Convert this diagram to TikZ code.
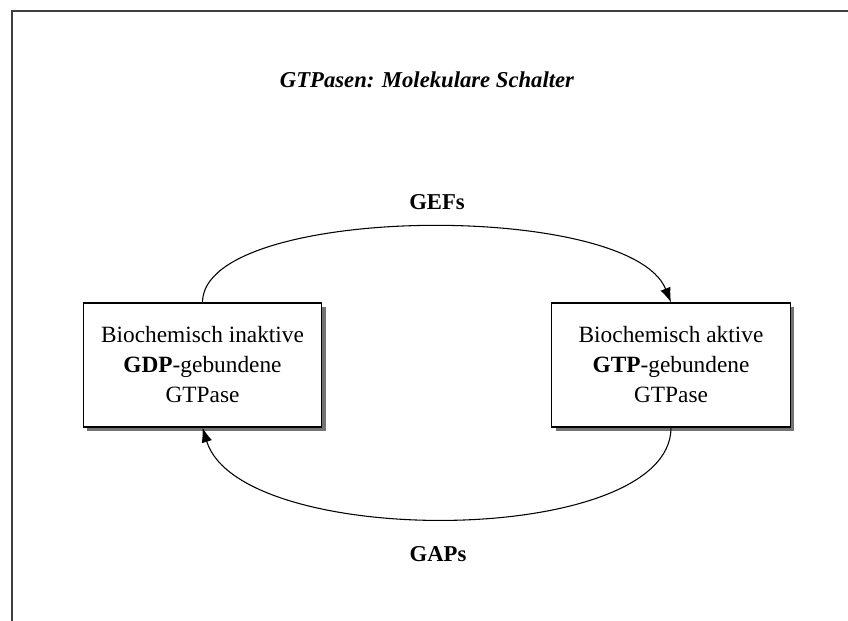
\documentclass[tikz,border=0pt]{standalone}
\usepackage{fontspec}
\setmainfont{Liberation Serif}
\usetikzlibrary{arrows.meta,shadows}
\tikzstyle{zustand}=[rectangle, draw=black, fill=white, line width=0.9pt, minimum width=179pt, minimum height=93pt, align=center, inner sep=0pt, drop shadow={shadow xshift=3pt, shadow yshift=-3pt, fill=black!55, opacity=1}, font=\fontsize{17.5}{22.5}\selectfont]
\tikzstyle{annot}=[align=center, font=\fontsize{17}{22.5}\selectfont\bfseries]
\tikzstyle{bogen}=[line width=0.8pt, -{Latex[length=11pt, width=8pt]}]
\tikzstyle{rahmen}=[line width=1.6pt, draw=black!75]

\begin{document}
\begin{tikzpicture}[x=0.75pt, y=-0.75pt]
	\useasboundingbox (0,0) rectangle (848,620);
	\draw[rahmen] (849,11) -- (12,11) -- (12,621);

	\node[annot, font=\fontsize{17}{22.5}\selectfont\bfseries\itshape](titel) at (427,80) {GTPasen: Molekulare Schalter};

	\node[zustand](inaktiv) at (202.5,365) {Biochemisch inaktive\\\textbf{GDP}-gebundene\\GTPase};
	\node[zustand](aktiv) at (671,365) {Biochemisch aktive\\\textbf{GTP}-gebundene\\GTPase};

	\draw[bogen] (inaktiv.north) .. controls (202.5,204) and (630,200) .. (aktiv.north);
	\draw[bogen] (aktiv.south) .. controls (671,548) and (240,550) .. (inaktiv.south);

	\node[annot](gefs) at (437,202) {GEFs};
	\node[annot](gaps) at (438,554) {GAPs};
\end{tikzpicture}
\end{document}
